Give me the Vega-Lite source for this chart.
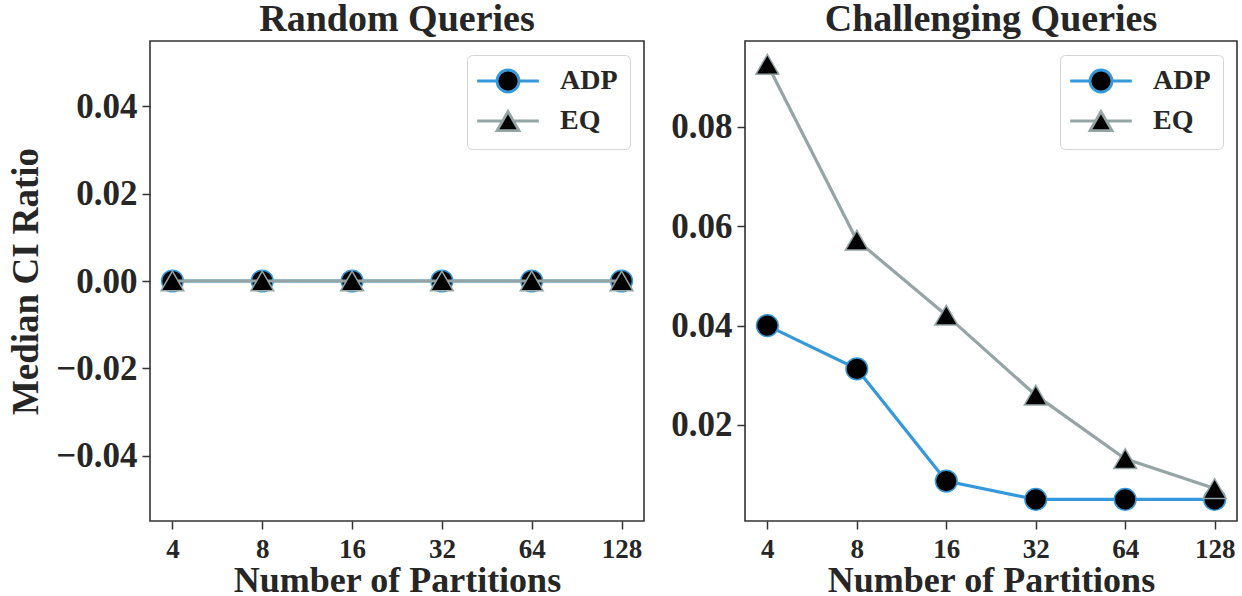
{
  "$schema": "https://vega.github.io/schema/vega-lite/v6.json",
  "background": "white",
  "padding": {"left": 7, "top": 0, "right": 2, "bottom": 0},
  "bounds": "flush",
  "spacing": 101,
  "config": {
    "font": "Liberation Serif",
    "view": {"stroke": "#333333", "strokeWidth": 1.6},
    "axis": {
      "domain": false,
      "grid": false,
      "ticks": true,
      "tickColor": "#333333",
      "tickWidth": 1.5,
      "tickSize": 8,
      "labelColor": "#262626",
      "titleColor": "#262626",
      "labelFont": "Liberation Serif",
      "titleFont": "Liberation Serif",
      "labelFontWeight": "bold",
      "titleFontWeight": "bold"
    },
    "axisX": {"labelFontSize": 27, "titleFontSize": 36, "labelPadding": 7, "titlePadding": 1, "labelFlush": false},
    "axisY": {"labelFontSize": 35, "titleFontSize": 37, "labelPadding": 5, "titlePadding": 10},
    "title": {"fontSize": 38, "fontWeight": "bold", "color": "#262626", "font": "Liberation Serif", "offset": 2},
    "legend": {
      "orient": "top-right",
      "offset": 14,
      "title": null,
      "labelFontSize": 28,
      "labelFont": "Liberation Serif",
      "labelFontWeight": "bold",
      "labelColor": "#262626",
      "fillColor": "rgba(255,255,255,0.8)",
      "strokeColor": "#d5d5d5",
      "cornerRadius": 5,
      "padding": 12,
      "symbolSize": 484,
      "symbolOffset": 15,
      "labelOffset": 38,
      "rowPadding": 7
    }
  },
  "datasets": {
    "random": [
      {"partitions": 4, "series": "ADP", "value": 0},
      {"partitions": 8, "series": "ADP", "value": 0},
      {"partitions": 16, "series": "ADP", "value": 0},
      {"partitions": 32, "series": "ADP", "value": 0},
      {"partitions": 64, "series": "ADP", "value": 0},
      {"partitions": 128, "series": "ADP", "value": 0},
      {"partitions": 4, "series": "EQ", "value": 0},
      {"partitions": 8, "series": "EQ", "value": 0},
      {"partitions": 16, "series": "EQ", "value": 0},
      {"partitions": 32, "series": "EQ", "value": 0},
      {"partitions": 64, "series": "EQ", "value": 0},
      {"partitions": 128, "series": "EQ", "value": 0}
    ],
    "challenging": [
      {"partitions": 4, "series": "ADP", "value": 0.0400},
      {"partitions": 8, "series": "ADP", "value": 0.0313},
      {"partitions": 16, "series": "ADP", "value": 0.0087},
      {"partitions": 32, "series": "ADP", "value": 0.0050},
      {"partitions": 64, "series": "ADP", "value": 0.0050},
      {"partitions": 128, "series": "ADP", "value": 0.0050},
      {"partitions": 4, "series": "EQ", "value": 0.0926},
      {"partitions": 8, "series": "EQ", "value": 0.0572},
      {"partitions": 16, "series": "EQ", "value": 0.0421},
      {"partitions": 32, "series": "EQ", "value": 0.0260},
      {"partitions": 64, "series": "EQ", "value": 0.0132},
      {"partitions": 128, "series": "EQ", "value": 0.0072}
    ]
  },
  "resolve": {
    "scale": {"y": "independent", "color": "independent", "shape": "independent"},
    "legend": {"color": "independent", "shape": "independent"}
  },
  "hconcat": [
    {
      "width": 494,
      "height": 480,
      "title": {"text": "Random Queries"},
      "data": {"name": "random"},
      "encoding": {
        "x": {
          "field": "partitions", "type": "quantitative",
          "scale": {"type": "log", "base": 2, "domain": [3.364, 152.2], "nice": false},
          "axis": {"values": [4, 8, 16, 32, 64, 128], "format": "d", "title": "Number of Partitions"}
        },
        "y": {
          "field": "value", "type": "quantitative",
          "scale": {"domain": [-0.055, 0.055], "nice": false, "zero": false},
          "axis": {"values": [-0.04, -0.02, 0, 0.02, 0.04], "format": ".2f", "title": "Median CI Ratio"}
        },
        "color": {
          "field": "series", "type": "nominal",
          "scale": {"domain": ["ADP", "EQ"], "range": ["#3498db", "#95a5a6"]},
          "legend": {
            "encode": {
              "symbols": {
                "update": {
                  "shape": {"signal": "datum.value === 'ADP' ? 'M-2.8,0H-1M1,0H2.8M1,0A1,1,0,1,1,-1,0A1,1,0,1,1,1,0Z' : 'M-2.8,0H-0.5M0.5,0H2.8M-1,0.866L1,0.866L0,-0.866Z'"},
                  "fill": {"value": "black"},
                  "fillOpacity": {"value": 1},
                  "stroke": {"signal": "datum.value === 'ADP' ? '#3498db' : '#95a5a6'"},
                  "strokeWidth": {"value": 2.8},
                  "opacity": {"value": 1}
                }
              }
            }
          }
        }
      },
      "layer": [
        {"transform": [{"filter": "datum.series === 'ADP'"}], "mark": {"type": "line", "strokeWidth": 3.2}},
        {"transform": [{"filter": "datum.series === 'ADP'"}], "mark": {"type": "point", "shape": "circle", "filled": false, "fill": "black", "fillOpacity": 1, "opacity": 1, "size": 470, "strokeWidth": 1.5}},
        {"transform": [{"filter": "datum.series === 'EQ'"}], "mark": {"type": "line", "strokeWidth": 3.2}},
        {"transform": [{"filter": "datum.series === 'EQ'"}], "mark": {"type": "point", "shape": "triangle-up", "filled": false, "fill": "black", "fillOpacity": 1, "opacity": 1, "size": 520, "strokeWidth": 1.5}}
      ]
    },
    {
      "width": 492,
      "height": 480,
      "title": {"text": "Challenging Queries"},
      "data": {"name": "challenging"},
      "encoding": {
        "x": {
          "field": "partitions", "type": "quantitative",
          "scale": {"type": "log", "base": 2, "domain": [3.364, 152.2], "nice": false},
          "axis": {"values": [4, 8, 16, 32, 64, 128], "format": "d", "title": "Number of Partitions"}
        },
        "y": {
          "field": "value", "type": "quantitative",
          "scale": {"domain": [0.00066, 0.0973], "nice": false, "zero": false},
          "axis": {"values": [0.02, 0.04, 0.06, 0.08], "format": ".2f", "title": null}
        },
        "color": {
          "field": "series", "type": "nominal",
          "scale": {"domain": ["ADP", "EQ"], "range": ["#3498db", "#95a5a6"]},
          "legend": {
            "encode": {
              "symbols": {
                "update": {
                  "shape": {"signal": "datum.value === 'ADP' ? 'M-2.8,0H-1M1,0H2.8M1,0A1,1,0,1,1,-1,0A1,1,0,1,1,1,0Z' : 'M-2.8,0H-0.5M0.5,0H2.8M-1,0.866L1,0.866L0,-0.866Z'"},
                  "fill": {"value": "black"},
                  "fillOpacity": {"value": 1},
                  "stroke": {"signal": "datum.value === 'ADP' ? '#3498db' : '#95a5a6'"},
                  "strokeWidth": {"value": 2.8},
                  "opacity": {"value": 1}
                }
              }
            }
          }
        }
      },
      "layer": [
        {"transform": [{"filter": "datum.series === 'ADP'"}], "mark": {"type": "line", "strokeWidth": 3.2}},
        {"transform": [{"filter": "datum.series === 'ADP'"}], "mark": {"type": "point", "shape": "circle", "filled": false, "fill": "black", "fillOpacity": 1, "opacity": 1, "size": 470, "strokeWidth": 1.5}},
        {"transform": [{"filter": "datum.series === 'EQ'"}], "mark": {"type": "line", "strokeWidth": 3.2}},
        {"transform": [{"filter": "datum.series === 'EQ'"}], "mark": {"type": "point", "shape": "triangle-up", "filled": false, "fill": "black", "fillOpacity": 1, "opacity": 1, "size": 520, "strokeWidth": 1.5}}
      ]
    }
  ]
}
